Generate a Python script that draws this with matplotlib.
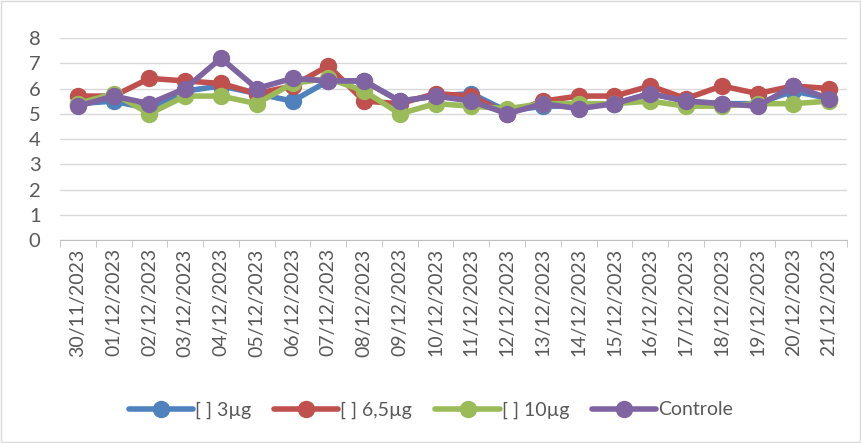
import matplotlib
matplotlib.use("Agg")
import matplotlib.pyplot as plt
from matplotlib.patches import Rectangle

dates = ["30/11/2023", "01/12/2023", "02/12/2023", "03/12/2023", "04/12/2023",
         "05/12/2023", "06/12/2023", "07/12/2023", "08/12/2023", "09/12/2023",
         "10/12/2023", "11/12/2023", "12/12/2023", "13/12/2023", "14/12/2023",
         "15/12/2023", "16/12/2023", "17/12/2023", "18/12/2023", "19/12/2023",
         "20/12/2023", "21/12/2023"]

s_3ug = [5.4, 5.5, 5.2, 5.9, 6.1, 5.8, 5.5, 6.3, 6.3, 5.5, 5.7, 5.8, 5.1, 5.3,
         5.3, 5.4, 5.8, 5.5, 5.4, 5.4, 5.9, 5.6]
s_65ug = [5.7, 5.7, 6.4, 6.3, 6.2, 5.8, 6.1, 6.9, 5.5, 5.4, 5.8, 5.7, 5.0, 5.5,
          5.7, 5.7, 6.1, 5.6, 6.1, 5.8, 6.1, 6.0]
s_10ug = [5.4, 5.8, 5.0, 5.7, 5.7, 5.4, 6.2, 6.4, 5.9, 5.0, 5.4, 5.3, 5.2, 5.4,
          5.4, 5.4, 5.5, 5.3, 5.3, 5.4, 5.4, 5.5]
s_ctrl = [5.3, 5.7, 5.4, 6.0, 7.2, 6.0, 6.4, 6.3, 6.3, 5.5, 5.7, 5.5, 5.0, 5.4,
          5.2, 5.4, 5.8, 5.5, 5.4, 5.3, 6.1, 5.6]

series_names = ["[ ] 3µg", "[ ] 6,5µg", "[ ] 10µg", "Controle"]
series_vals = [s_3ug, s_65ug, s_10ug, s_ctrl]
colors = ["#4F81BD", "#C0504D", "#9BBB59", "#8064A2"]
yticks = [0, 1, 2, 3, 4, 5, 6, 7, 8]

plt.rcParams['font.family'] = ['Lato', 'DejaVu Sans']
txt = "#595959"

fig = plt.figure(figsize=(8.62, 4.43), dpi=100)
fig.patches.append(Rectangle((0.001, 0.002), 0.997, 0.995, transform=fig.transFigure,
                             fill=False, edgecolor="#D9D9D9", linewidth=1))
ax = fig.add_axes([60/862, 1-240/443, (847-60)/862, (240-38)/443])

x = list(range(len(dates)))
for name, vals, c in zip(series_names, series_vals, colors):
    ax.plot(x, vals, color=c, linewidth=4, marker="o", markersize=11.5,
            label=name, solid_capstyle="round")

ax.set_xlim(-0.5, len(dates) - 0.5)
ax.set_ylim(0, 8)
ax.set_yticks(yticks)
ax.set_yticklabels([str(v) for v in yticks], fontsize=14.5, color=txt)
ax.yaxis.grid(True, color="#D9D9D9", linewidth=1)
ax.set_axisbelow(True)
for sp in ["top", "right", "left"]:
    ax.spines[sp].set_visible(False)
ax.spines["bottom"].set_color("#BFBFBF")
ax.tick_params(axis="y", length=0, pad=14)
ax.set_xticks(x)
ax.set_xticklabels(dates, rotation=90, fontsize=14, color=txt)
ax.tick_params(axis="x", which="major", length=0, pad=6)
ax.set_xticks([i - 0.5 for i in range(len(dates) + 1)], minor=True)
ax.tick_params(axis="x", which="minor", length=5, color="#BFBFBF")

leg = fig.legend(loc="center", bbox_to_anchor=(0.5, 1-410/443), ncol=4, frameon=False,
                 fontsize=14, handlelength=3.3, columnspacing=1.2, handletextpad=0.1)
for t in leg.get_texts():
    t.set_color(txt)

fig.savefig("out.png", dpi=100)
